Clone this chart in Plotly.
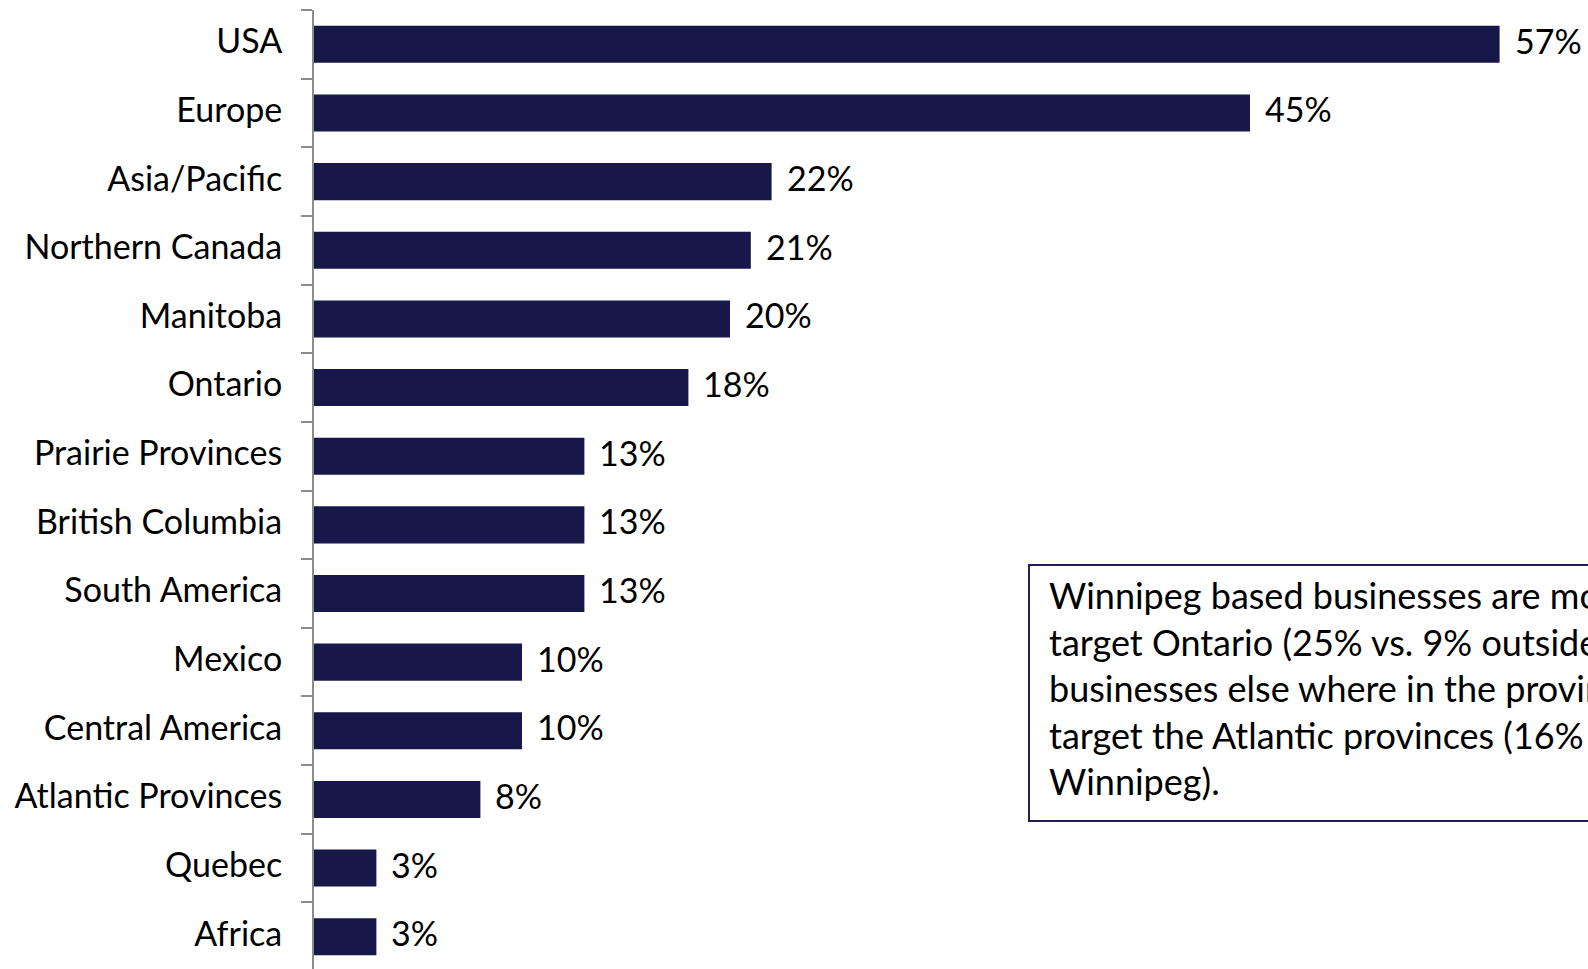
import plotly.graph_objects as go

# Share of businesses targeting each market (%)
regions = [
    "USA", "Europe", "Asia/Pacific", "Northern Canada", "Manitoba", "Ontario",
    "Prairie Provinces", "British Columbia", "South America", "Mexico",
    "Central America", "Atlantic Provinces", "Quebec", "Africa",
]
shares = [57, 45, 22, 21, 20, 18, 13, 13, 13, 10, 10, 8, 3, 3]

note_lines = [
    "Winnipeg based businesses are more",
    "target Ontario (25% vs. 9% outside",
    "businesses else where in the province",
    "target the Atlantic provinces (16% vs.",
    "Winnipeg).",
]

BAR = "#17174a"
AXIS = "#8c8c8c"
FONT = "Lato"
FS = 34
NOTE_FS = 36

fig = go.Figure(
    go.Bar(
        x=shares,
        y=regions,
        orientation="h",
        width=0.54,
        marker=dict(color=BAR, line=dict(width=0)),
        hoverinfo="skip",
    )
)

# value labels to the right of each bar
for r, v in zip(regions, shares):
    fig.add_annotation(
        x=v, y=r, xref="x", yref="y",
        text=f"{v}%", showarrow=False,
        xanchor="left", yanchor="middle", xshift=13, yshift=4,
        font=dict(family=FONT, size=FS, color="#000000"),
    )

W, H = 1588, 969
ML, MT = 314, 10
pw, ph = W - ML, H - MT


def px_x(px):
    return (px - ML) / pw


def px_y(py):
    return (H - py) / ph


# note box, running off the right edge
fig.add_shape(
    type="rect", xref="paper", yref="paper",
    x0=px_x(1029), x1=1.3, y0=px_y(821), y1=px_y(565),
    line=dict(color="#1f1f55", width=2), fillcolor="white",
)
for i, line in enumerate(note_lines):
    fig.add_annotation(
        x=px_x(1047), y=px_y(595 + i * 46.6), xref="paper", yref="paper",
        text=line, showarrow=False, xanchor="left", yanchor="middle",
        font=dict(family=FONT, size=NOTE_FS, color="#000000"),
    )

fig.update_layout(
    width=W, height=H,
    margin=dict(l=ML, r=0, t=MT, b=0, pad=0),
    paper_bgcolor="white", plot_bgcolor="white",
    showlegend=False,
    xaxis=dict(visible=False, range=[0, 61.25], fixedrange=True),
    yaxis=dict(
        type="category",
        categoryorder="array", categoryarray=regions,
        range=[13.47, -0.5],
        showline=True, linecolor=AXIS, linewidth=2,
        ticks="outside", tickson="boundaries", ticklen=11,
        tickcolor=AXIS, tickwidth=2,
        ticklabelstandoff=23,
        ticklabelshift=3,
        showgrid=False, zeroline=False,
        tickfont=dict(family=FONT, size=FS, color="#000000"),
    ),
)

fig.write_html("out.html")
